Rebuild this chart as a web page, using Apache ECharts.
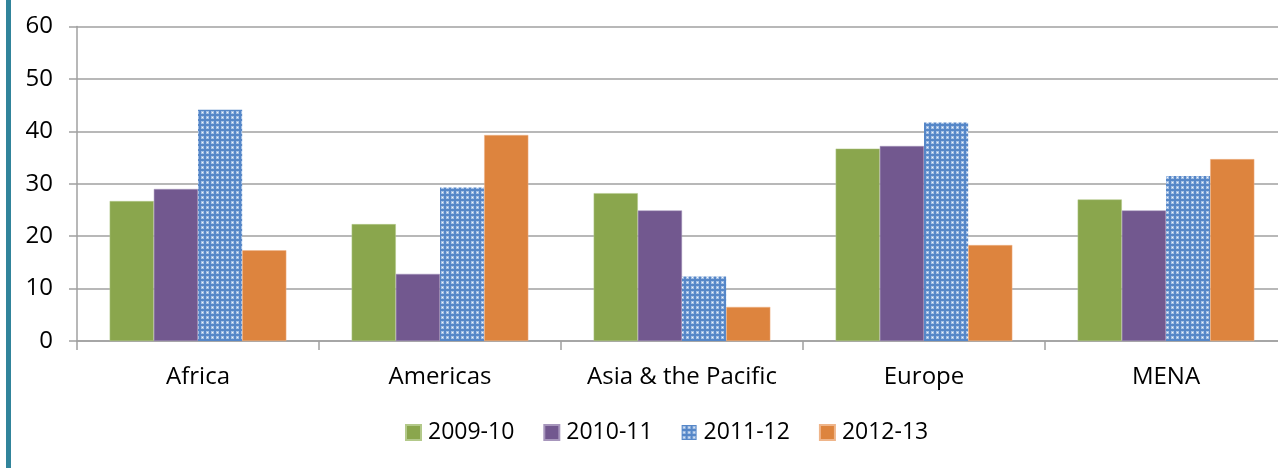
<!DOCTYPE html>
<html>
<head>
<meta charset="utf-8">
<script src="https://cdn.jsdelivr.net/npm/echarts@6/dist/echarts.min.js"></script>
<style>
html,body{margin:0;padding:0;background:#fff;overflow:hidden;width:1278px;height:468px;}
#main{width:1287px;height:468px;}
</style>
</head>
<body>
<div id="main"></div>
<script>
// data
var regions = ['Africa', 'Americas', 'Asia & the Pacific', 'Europe', 'MENA'];
var years = ['2009-10', '2010-11', '2011-12', '2012-13'];
var y2009 = [26.7, 22.3, 28.2, 36.7, 27.0];
var y2010 = [29.0, 12.8, 24.9, 37.2, 24.9];
var y2011 = [44.1, 29.3, 12.3, 41.7, 31.5];
var y2012 = [17.3, 39.3, 6.5, 18.3, 34.7];

// dotted blue fill for 2011-12
function makePattern(){
  var c = document.createElement('canvas');
  c.width = 5; c.height = 5;
  var g = c.getContext('2d');
  g.fillStyle = '#5687c8';
  g.fillRect(0, 0, 5, 5);
  g.fillStyle = '#a3bfe4';
  g.fillRect(1, 1, 3, 3);
  g.fillStyle = '#f2f6fc';
  g.fillRect(2, 2, 1, 1);
  return c;
}
var dots = {image: makePattern(), repeat: 'repeat'};

var font = '"Open Sans", sans-serif';
var myChart = echarts.init(document.getElementById('main'));
myChart.setOption({
  animation: false,
  textStyle: {fontFamily: font},
  graphic: [{
    type: 'rect',
    shape: {x: 6, y: 0, width: 5, height: 468},
    style: {fill: '#31849b'}
  }],
  grid: {left: 77, right: 0, top: 26.5, bottom: 127},
  legend: {
    top: 421,
    left: 405,
    padding: 0,
    itemWidth: 15,
    itemHeight: 15,
    itemGap: 29,
    icon: 'rect',
    textStyle: {fontSize: 23, color: '#000', fontFamily: font, padding: [0, 0, 0, 2]},
    data: years
  },
  xAxis: {
    type: 'category',
    data: regions,
    axisLine: {lineStyle: {color: '#a0a0a0', width: 1.5}},
    axisTick: {show: true, interval: 0, length: 9, lineStyle: {color: '#a0a0a0', width: 1.5}},
    axisLabel: {interval: 0, fontSize: 24, color: '#000', margin: 24, fontFamily: font}
  },
  yAxis: {
    type: 'value',
    min: 0,
    max: 60,
    interval: 10,
    axisLine: {show: true, lineStyle: {color: '#a0a0a0', width: 1.5}},
    axisTick: {show: true, length: 8, lineStyle: {color: '#a0a0a0', width: 1.5}},
    axisLabel: {fontSize: 24, color: '#000', margin: 24, fontFamily: font},
    splitLine: {lineStyle: {color: '#a0a0a0', width: 1.5}}
  },
  series: [
    {name: years[0], type: 'bar', data: y2009, barGap: '0%', barCategoryGap: '27%',
     itemStyle: {color: '#8aa64d', borderColor: '#b3c98a', borderWidth: 0.5}},
    {name: years[1], type: 'bar', data: y2010,
     itemStyle: {color: '#72588f', borderColor: '#a796bc', borderWidth: 0.5}},
    {name: years[2], type: 'bar', data: y2011,
     itemStyle: {color: dots}},
    {name: years[3], type: 'bar', data: y2012,
     itemStyle: {color: '#dd843e', borderColor: '#efb58a', borderWidth: 0.5}}
  ]
});
</script>
</body>
</html>
